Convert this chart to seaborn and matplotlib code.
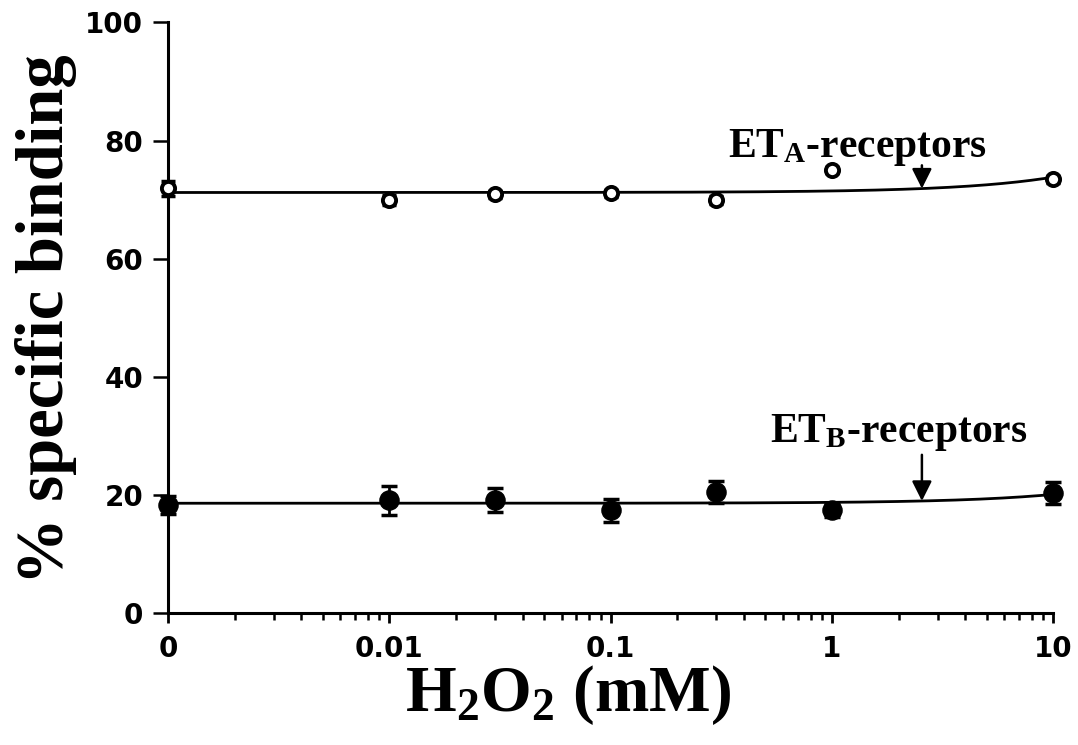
import numpy as np
import pandas as pd
import matplotlib
matplotlib.use("Agg")
import matplotlib.pyplot as plt
from matplotlib.ticker import FixedLocator, LogLocator, NullFormatter, FixedFormatter
import seaborn as sns

# H2O2 concentrations (mM); the control (0) is drawn at the left edge of the log axis
conc = [0, 0.01, 0.03, 0.1, 0.3, 1, 10]
zero_pos = 1e-3

eta_mean = [71.9, 69.9, 70.9, 71.1, 69.9, 75.0, 73.4]
eta_err = [1.3, 0.8, 0.6, 0.6, 0.7, 0.5, 0.6]
etb_mean = [18.3, 19.1, 19.1, 17.4, 20.5, 17.4, 20.3]
etb_err = [1.6, 2.5, 2.0, 2.0, 1.9, 1.2, 1.9]

# linear fits, y = intercept + slope * [H2O2]
eta_fit = (71.2, 0.26)
etb_fit = (18.6, 0.15)

xtick_vals = [1e-3, 1e-2, 1e-1, 1, 10]
xtick_labels = ["0", "0.01", "0.1", "1", "10"]
ytick_vals = [0, 20, 40, 60, 80, 100]

sns.set_theme(style="ticks")
plt.rcParams["font.family"] = ["DejaVu Sans"]
plt.rcParams["text.color"] = "black"
plt.rcParams["axes.labelcolor"] = "black"
plt.rcParams["mathtext.fontset"] = "custom"
plt.rcParams["mathtext.rm"] = "Liberation Serif:bold"
plt.rcParams["mathtext.bf"] = "Liberation Serif:bold"
plt.rcParams["mathtext.it"] = "Liberation Serif:bold"
plt.rcParams["mathtext.default"] = "bf"

xpos = [zero_pos if c == 0 else c for c in conc]
df = pd.DataFrame({
    "x": xpos * 2,
    "y": eta_mean + etb_mean,
    "err": eta_err + etb_err,
    "receptor": ["ETA"] * len(conc) + ["ETB"] * len(conc),
})

fig = plt.figure(figsize=(10.78, 7.45), dpi=100)
ax = fig.add_axes([0.156, 0.177, 0.821, 0.793])
ax.set_xscale("log")

# fitted curves
xs = np.logspace(-3, 1, 400)
fit_df = pd.DataFrame({
    "x": np.concatenate([xs, xs]),
    "y": np.concatenate([eta_fit[0] + eta_fit[1] * xs, etb_fit[0] + etb_fit[1] * xs]),
    "receptor": ["ETA"] * len(xs) + ["ETB"] * len(xs),
})
sns.lineplot(data=fit_df, x="x", y="y", units="receptor", estimator=None,
             color="black", lw=2.0, ax=ax, legend=False, zorder=2)

# error bars
for rec in ("ETA", "ETB"):
    sub = df[df.receptor == rec]
    ax.errorbar(sub.x, sub.y, yerr=sub.err, fmt="none", ecolor="black",
                elinewidth=2.0, capsize=6 if rec == "ETB" else 5, capthick=2.5,
                zorder=3, clip_on=False)

# markers: open circles for ETA, filled for ETB
sns.scatterplot(data=df[df.receptor == "ETA"], x="x", y="y", marker="o", s=90,
                facecolor="white", edgecolor="black", linewidth=2.8, ax=ax,
                zorder=4, clip_on=False, legend=False)
sns.scatterplot(data=df[df.receptor == "ETB"], x="x", y="y", marker="o", s=190,
                color="black", edgecolor="black", linewidth=1, ax=ax,
                zorder=4, clip_on=False, legend=False)

ax.set_xlim(1e-3, 10)
ax.set_ylim(0, 100)

ax.xaxis.set_major_locator(FixedLocator(xtick_vals))
ax.xaxis.set_major_formatter(FixedFormatter(xtick_labels))
ax.xaxis.set_minor_locator(LogLocator(base=10, subs=np.arange(2, 10), numticks=20))
ax.xaxis.set_minor_formatter(NullFormatter())
ax.set_yticks(ytick_vals)

for s in ("top", "right"):
    ax.spines[s].set_visible(False)
for s in ("left", "bottom"):
    ax.spines[s].set_linewidth(2.2)
    ax.spines[s].set_color("black")

ax.tick_params(axis="x", which="major", length=7, width=2, pad=9,
               labelsize=20, colors="black")
ax.tick_params(axis="x", which="minor", length=5, width=1.8, colors="black")
ax.tick_params(axis="y", which="major", length=11, width=1.8, pad=7,
               labelsize=20, colors="black")
for lab in ax.get_xticklabels() + ax.get_yticklabels():
    lab.set_fontweight("bold")

ax.set_xlabel(r"H$_{2}$O$_{2}$ (mM)", fontsize=47, fontweight="bold",
              family="Liberation Serif", color="black")
ax.xaxis.set_label_coords(0.452, -0.085, transform=ax.transAxes)
ax.xaxis.label.set_va("top")
ax.set_ylabel("% specific binding", fontsize=48, fontweight="bold",
              family="Liberation Serif", color="black")
ax.yaxis.set_label_coords(-0.103, 0.497, transform=ax.transAxes)

# curve labels with vertical arrows down to the fitted lines
arrow_x = 2.55
label_kw = dict(ha="center", va="center", fontsize=30, fontweight="bold",
                family="Liberation Serif", color="black")
arrow_kw = dict(arrowstyle="-|>", color="black", lw=1.8, mutation_scale=30,
                shrinkA=0, shrinkB=0)

ax.text(1.31, 78.8, r"ET$_{A}$-receptors", **label_kw)
ax.annotate("", xy=(arrow_x, eta_fit[0] + eta_fit[1] * arrow_x),
            xytext=(arrow_x, 75.8), arrowprops=arrow_kw)

ax.text(2.0, 30.5, r"ET$_{B}$-receptors", **label_kw)
ax.annotate("", xy=(arrow_x, etb_fit[0] + etb_fit[1] * arrow_x),
            xytext=(arrow_x, 26.8), arrowprops=arrow_kw)

fig.savefig("out.png", dpi=100, facecolor="white")
